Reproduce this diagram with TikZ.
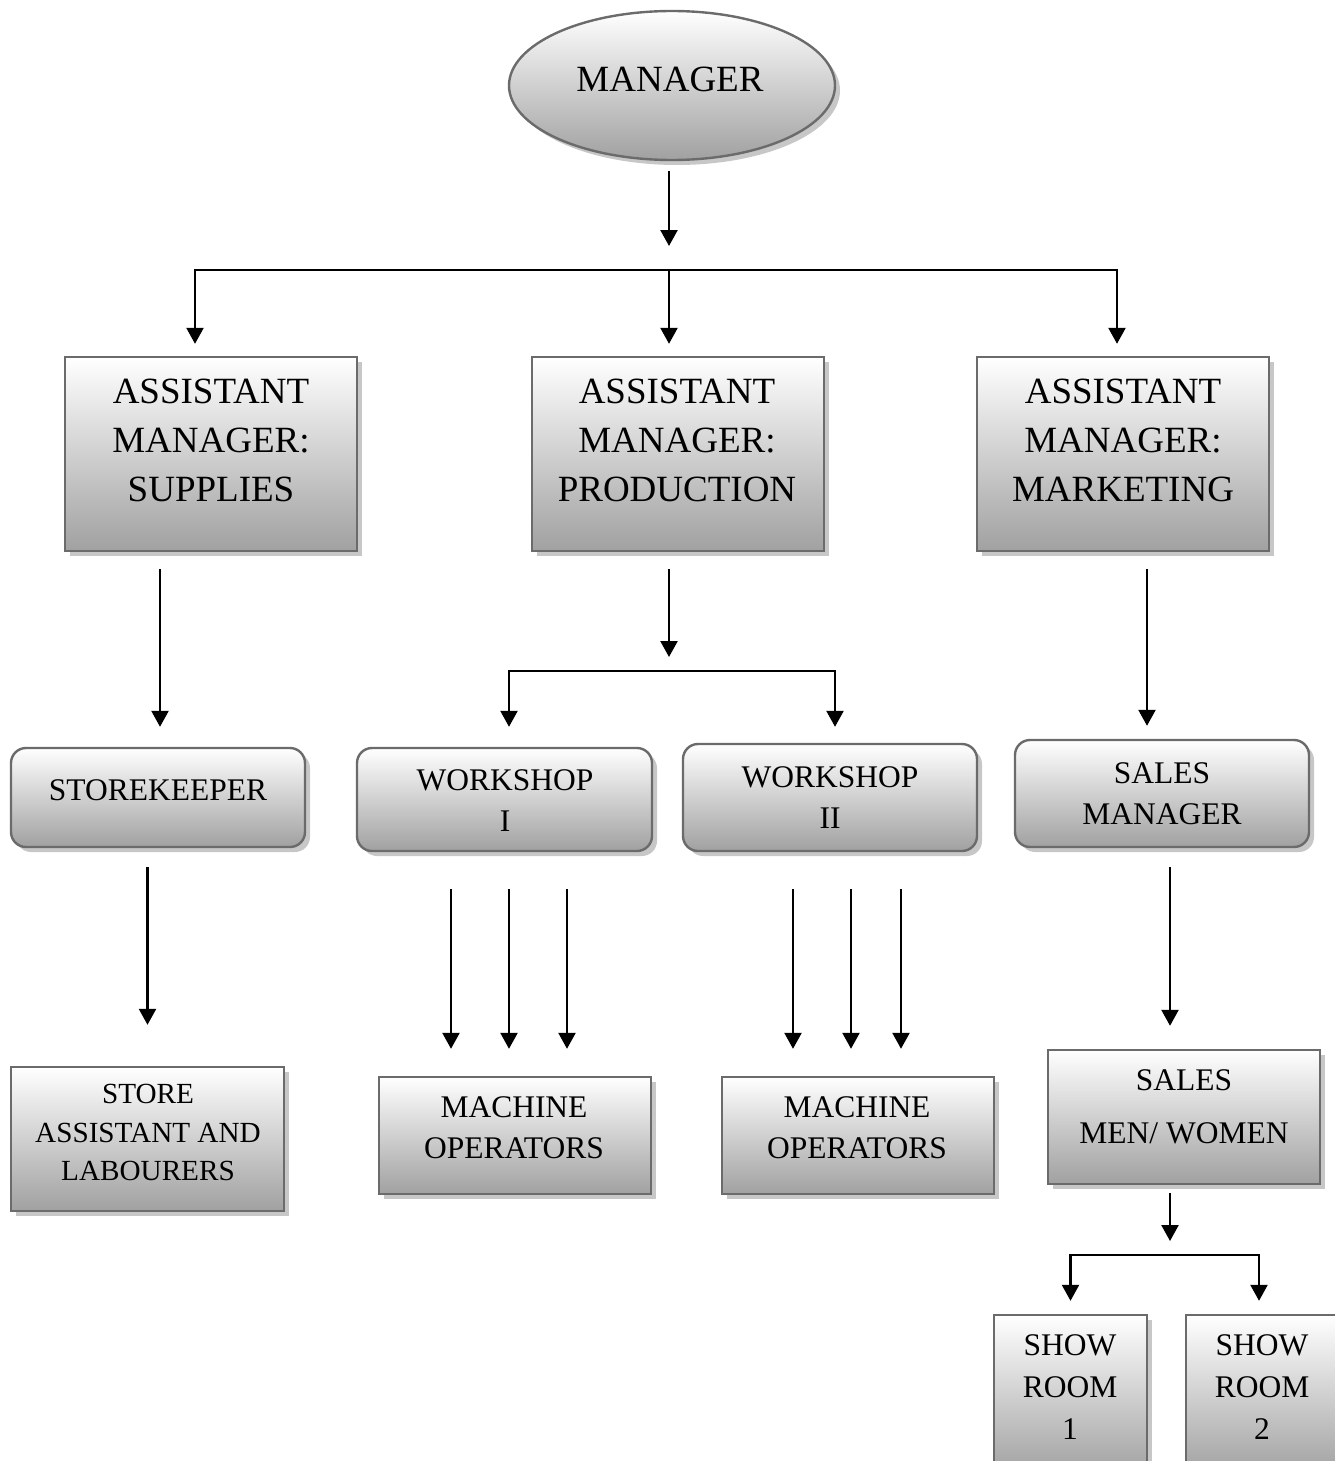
\documentclass[tikz,border=0pt]{standalone}
\usepackage{fontspec}
\setmainfont{Liberation Serif}
\usetikzlibrary{arrows.meta,shapes.geometric,shadows,calc}

\begin{document}
\begin{tikzpicture}[x=1pt,y=1pt,yscale=-1,xscale=1,
    shbox/.style={draw=black!58,line width=2.4pt,top color=white,bottom color=black!37,
        inner sep=0pt,drop shadow={shadow xshift=5pt,shadow yshift=-5pt,fill=black!22,opacity=1}},
    rbox/.style={shbox,rounded corners=15pt},
    arr/.style={line width=2.4pt,-{Triangle[width=17pt,length=16pt]}},
    bigtxt/.style={align=center,inner sep=0pt,font=\fontsize{37}{49}\selectfont},
    midtxt/.style={align=center,inner sep=0pt,font=\fontsize{31.5}{41}\selectfont},
    smltxt/.style={align=center,inner sep=0pt,font=\fontsize{29.2}{38.5}\selectfont}]
    \useasboundingbox (0,0) rectangle (1335,1461);

    %Shape: Ellipse
    \node [shbox,ellipse,minimum width=326pt,minimum height=149pt] (mgr) at (672,85.5) {};
    %Shape: Rectangle
    \node [shbox,minimum width=292pt,minimum height=194pt] (sup) at (211,454) {};
    \node [shbox,minimum width=292pt,minimum height=194pt] (prod) at (678,454) {};
    \node [shbox,minimum width=292pt,minimum height=194pt] (mkt) at (1123,454) {};
    %Shape: Rounded Rect
    \node [rbox,minimum width=294pt,minimum height=99pt] (sk) at (158,797.5) {};
    \node [rbox,minimum width=295pt,minimum height=103pt] (ws1) at (504.5,799.5) {};
    \node [rbox,minimum width=294pt,minimum height=107pt] (ws2) at (830,797.5) {};
    \node [rbox,minimum width=294pt,minimum height=107pt] (sm) at (1162,793.5) {};
    %Shape: Rectangle
    \node [shbox,minimum width=273pt,minimum height=144pt] (sa) at (147.5,1139) {};
    \node [shbox,minimum width=272pt,minimum height=117pt] (mo1) at (515,1135.5) {};
    \node [shbox,minimum width=272pt,minimum height=117pt] (mo2) at (858,1135.5) {};
    \node [shbox,minimum width=272pt,minimum height=134pt] (smen) at (1184,1117) {};
    \node [shbox,minimum width=153pt,minimum height=160pt] (sr1) at (1070.5,1395) {};
    \node [shbox,minimum width=153pt,minimum height=160pt] (sr2) at (1262.5,1395) {};

    % Text Node
    \node [bigtxt] (mgr-t) at (670,79) {MANAGER};
    \node [bigtxt] (sup-t) at (211,440) {ASSISTANT\\MANAGER:\\SUPPLIES};
    \node [bigtxt] (prod-t) at (677,440) {ASSISTANT\\MANAGER:\\PRODUCTION};
    \node [bigtxt] (mkt-t) at (1123,440) {ASSISTANT\\MANAGER:\\MARKETING};
    % Text Node
    \node [midtxt] (sk-t) at (158,790) {STOREKEEPER};
    \node [midtxt] (ws1-t) at (505,801) {WORKSHOP\\I};
    \node [midtxt] (ws2-t) at (830,797.5) {WORKSHOP\\II};
    \node [midtxt] (sm-t) at (1162,793.5) {SALES\\MANAGER};
    % Text Node
    \node [smltxt] (sa-t) at (148,1132.5) {STORE\\ASSISTANT AND\\LABOURERS};
    \node [midtxt] (mo1-t) at (514,1127.5) {MACHINE\\OPERATORS};
    \node [midtxt] (mo2-t) at (857,1127.5) {MACHINE\\OPERATORS};
    \node [midtxt,font=\fontsize{31.5}{53}\selectfont] (smen-t) at (1184,1106.5) {SALES\\MEN/ WOMEN};
    \node [midtxt,font=\fontsize{31.5}{42}\selectfont] (sr1-t) at (1070,1387) {SHOW\\ROOM\\1};
    \node [midtxt,font=\fontsize{31.5}{42}\selectfont] (sr2-t) at (1262,1387) {SHOW\\ROOM\\2};

    %Straight Lines
    \coordinate (bar1) at (669,270);
    \draw [arr,shorten <=10pt,shorten >=24pt] (mgr.south -| bar1) -- (bar1);
    \draw [arr,shorten >=12pt] (bar1) -| ([xshift=-16pt]sup.north);
    \draw [arr,shorten >=12pt] (bar1) -- (bar1 |- prod.north);
    \draw [arr,shorten >=12pt] (bar1) -| ([xshift=-6pt]mkt.north);

    %Straight Lines
    \draw [arr,shorten <=17pt,shorten >=20pt] ([xshift=-51pt]sup.south) -- ([xshift=-51pt]sup.south |- sk.north);
    \coordinate (bar2) at (669,671);
    \draw [arr,shorten <=17pt,shorten >=14pt] (prod.south -| bar2) -- (bar2);
    \draw [arr,shorten >=20pt] (bar2) -| ([xshift=4.5pt]ws1.north);
    \draw [arr,shorten >=16pt] (bar2) -| ([xshift=5pt]ws2.north);
    \draw [arr,shorten <=17pt,shorten >=13pt] ([xshift=24pt]mkt.south) -- ([xshift=24pt]mkt.south |- sm.north);

    %Straight Lines
    \draw [arr,shorten <=19pt,shorten >=41pt] (sk.south -| sa.north) -- (sa.north);
    \foreach \dx in {-64,-6,52}
        \draw [arr,shorten <=37pt,shorten >=27pt] ([xshift=\dx pt]mo1.north |- ws1.south) -- ([xshift=\dx pt]mo1.north);
    \foreach \dx in {-65,-7,43}
        \draw [arr,shorten <=37pt,shorten >=27pt] ([xshift=\dx pt]mo2.north |- ws2.south) -- ([xshift=\dx pt]mo2.north);
    \draw [arr,shorten <=19pt,shorten >=23pt] ([xshift=-14pt]smen.north |- sm.south) -- ([xshift=-14pt]smen.north);

    %Straight Lines
    \coordinate (bar3) at (1170,1255);
    \draw [arr,shorten <=8pt,shorten >=14pt] (smen.south -| bar3) -- (bar3);
    \draw [arr,shorten >=13pt] (bar3) -| (sr1.north);
    \draw [arr,shorten >=13pt] (bar3) -| ([xshift=-3.5pt]sr2.north);

\end{tikzpicture}
\end{document}
